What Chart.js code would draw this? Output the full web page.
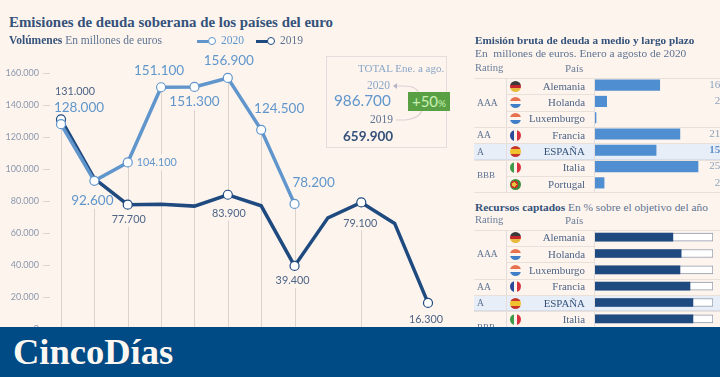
<!DOCTYPE html>
<html><head><meta charset="utf-8">
<script src="https://cdn.jsdelivr.net/npm/chart.js@4"></script>
<style>
html,body{margin:0;padding:0;background:#fdf4ee;width:720px;height:377px;overflow:hidden}
body{position:relative;font-family:"Liberation Serif",serif;color:#4c6486}
.t{position:absolute;white-space:nowrap;line-height:1}
canvas{position:absolute}
.line{position:absolute;height:1px;background:#e9e0da}
.vline{position:absolute;width:1px;background:#e3dedd}
.flag{position:absolute;width:11px;height:11px;border-radius:50%}
#banner{position:absolute;left:0;top:327px;width:720px;height:50px;background:#004a85}
</style></head><body>
<canvas id="main" width="460" height="297" style="left:0;top:40px"></canvas>

<div class="t" style="left:9px;top:15px;font-size:14.9px;font-weight:bold;color:#34527a">Emisiones de deuda soberana de los países del euro</div>
<div class="t" style="left:9px;top:35px;font-size:11.5px;color:#5d7391"><b style="color:#34527a">Volúmenes</b> En millones de euros</div>

<div style="position:absolute;left:197px;top:40px;width:12px;height:2.5px;background:#6096cc"></div>
<div style="position:absolute;left:208px;top:37px;width:6px;height:6px;border:1.3px solid #6096cc;border-radius:50%;background:#fff"></div>
<div class="t" style="left:221px;top:35px;font-size:11.5px;color:#6096cc">2020</div>
<div style="position:absolute;left:256px;top:40px;width:12px;height:2.5px;background:#1f4a80"></div>
<div style="position:absolute;left:267px;top:37px;width:6px;height:6px;border:1.3px solid #1f4a80;border-radius:50%;background:#fff"></div>
<div class="t" style="left:280px;top:35px;font-size:11.5px;color:#5d7391">2019</div>

<div style="position:absolute;left:326px;top:56px;width:119px;height:90px;border:1px solid #e6dcdc"></div>
<div class="t" style="left:358px;top:63px;font-size:11px;color:#8ba6c6">TOTAL Ene. a ago.</div>
<div class="t" style="left:367px;top:80px;font-size:11.5px;color:#8ba6c6">2020</div>
<div class="t" style="left:334px;top:93px;font-size:15.3px;font-family:Lato,sans-serif;color:#6096cc">986.700</div>
<div class="t" style="left:370px;top:114px;font-size:11.5px;color:#5d7391">2019</div>
<div class="t" style="left:343px;top:130px;font-size:13.5px;font-family:Lato,sans-serif;font-weight:bold;color:#34527a">659.900</div>
<svg style="position:absolute;left:390px;top:80px" width="40" height="44"><path d="M6 6 H14 Q28 6 29 15 M6 40 H16 Q30 38 32 30" fill="none" stroke="#e0cfd4" stroke-width="1.2"/><path d="M3 6 L7 3 V9Z" fill="#b9b4c6"/></svg>
<div class="t" style="left:408px;top:92px;width:42px;height:19px;background:#58a043;color:#c9f0b6;font-family:Lato,sans-serif;font-size:15px;line-height:19px;text-align:center">+50<span style="font-size:10px">%</span></div>

<div id="tables"></div>
<canvas id="bars1" width="126" height="114" style="left:594px;top:77px"></canvas>
<canvas id="bars2" width="126" height="98" style="left:594px;top:229px"></canvas>

<div id="banner"></div>
<div class="t" style="left:13px;top:334px;font-size:36.5px;font-weight:bold;color:#fdf7f2">CincoDías</div>

<script>
const months=['Ene','Feb','Mar','Abr','May','Jun','Jul','Ago','Sep','Oct','Nov','Dic'];
const values2020=[128000,92600,104100,151100,151300,156900,124500,78200];
const values2019=[131000,94000,77700,78000,76800,83900,77000,39400,69500,79100,66000,16300];
const labels2020=['128.000','92.600','104.100','151.100','151.300','156.900','124.500','78.200'];
const labels2019={0:'131.000',2:'77.700',5:'83.900',7:'39.400',9:'79.100',11:'16.300'};
const yTicks=[0,20000,40000,60000,80000,100000,120000,140000,160000];
const ratings=[['AAA',3],['AA',1],['A',1],['BBB',2]];
const countries=['Alemania','Holanda','Luxemburgo','Francia','ESPAÑA','Italia','Portugal'];
const emission=[160500,29000,2500,210500,151500,255500,22500];
const emissionLabels=['160.500','29.000','2.500','210.500','151.500','255.500','22.500'];
const resources=[66,73,72,80.5,83,83];

const blue='#6096cc',navy='#1f4a80',bg='#fdf4ee';
const F20='13.5px Lato,sans-serif',F19='10.8px Lato,sans-serif';
const font20=i=>i===2?F19:F20;
/* label offsets from the point */
const place20=[[18,-17],[-2,20],[29,0],[-2,-17],[0,15],[1,-17],[18,-21],[19,-21]];
const place19={0:[14,-28],2:[1,15],5:[1,19],7:[-2,15],9:[-1,21],11:[-2,17]};
const dropMonths=[0,1,2,3,4,5,6,7,9];

const overlay={id:'overlay',
 beforeDatasetsDraw(c){
  const g=c.ctx,x=c.scales.x,y=c.scales.y,b=y.getPixelForValue(0);
  g.save();g.strokeStyle='#dcd3ce';g.lineWidth=1;
  dropMonths.forEach(i=>{
    const v=i<8?Math.max(values2020[i],values2019[i]):values2019[i];
    const px=Math.round(x.getPixelForValue(i))+.5;
    g.beginPath();g.moveTo(px,y.getPixelForValue(v));g.lineTo(px,b);g.stroke();
  });
  yTicks.forEach(v=>{const p=Math.round(y.getPixelForValue(v))+.5;g.beginPath();g.moveTo(43,p);g.lineTo(50,p);g.stroke();});
  const mask=(txt,px,py,o,h)=>{
    const w=g.measureText(txt).width,cx=px+o[0],cy=py+o[1];
    const top=o[1]>0&&Math.abs(o[0])<5?py:cy-h;
    g.fillRect(cx-w/2-1,top,w+2,cy+h-top);
  };
  g.fillStyle=bg;
  values2020.forEach((v,i)=>{g.font=font20(i);mask(labels2020[i],x.getPixelForValue(i),y.getPixelForValue(v),place20[i],8);});
  g.font=F19;
  Object.keys(labels2019).forEach(i=>mask(labels2019[i],x.getPixelForValue(+i),y.getPixelForValue(values2019[i]),place19[i],7));
  g.restore();
 },
 afterDatasetsDraw(c){
  const g=c.ctx,x=c.scales.x,y=c.scales.y;
  g.save();g.textAlign='center';g.textBaseline='middle';
  g.fillStyle=blue;
  values2020.forEach((v,i)=>{g.font=font20(i);g.fillText(labels2020[i],x.getPixelForValue(i)+place20[i][0],y.getPixelForValue(v)+place20[i][1]);});
  g.fillStyle='#4c6486';g.font=F19;
  Object.keys(labels2019).forEach(i=>g.fillText(labels2019[i],x.getPixelForValue(+i)+place19[i][0],y.getPixelForValue(values2019[i])+place19[i][1]));
  g.restore();
 }};

new Chart(document.getElementById('main'),{
 type:'line',
 data:{labels:months,datasets:[
  {label:'2020',data:values2020,borderColor:blue,borderWidth:3.5,tension:0,clip:false,
   pointRadius:4.5,pointBackgroundColor:'#fff',pointBorderColor:blue,pointBorderWidth:1.2},
  {label:'2019',data:values2019,borderColor:navy,borderWidth:3.5,tension:0,clip:false,
   pointRadius:c=>labels2019[c.dataIndex]?4.5:0,pointBackgroundColor:'#fff',pointBorderColor:navy,pointBorderWidth:1.2}]},
 options:{responsive:false,animation:false,devicePixelRatio:1,
  plugins:{legend:{display:false},tooltip:{enabled:false}},
  layout:{padding:{top:33,right:32,bottom:8,left:0}},
  scales:{
   x:{display:false,offset:false,grid:{display:false}},
   y:{min:0,max:160000,afterBuildTicks(a){a.ticks=yTicks.map(v=>({value:v}))},
      afterFit(a){a.width=61;a.paddingTop=0;a.paddingBottom=0},
      border:{display:false},
      grid:{drawOnChartArea:false,drawTicks:true,tickLength:22,tickColor:'rgba(0,0,0,0)'},
      ticks:{padding:0,color:'#8a98ad',font:{family:'Lato,sans-serif',size:9},
             callback:v=>v===0?'0':String(v).replace(/(\d{3})$/,'.$1')}}
  }},
 plugins:[overlay]});

/* tables */
const nl='linear-gradient(#e8714f 0 34%,#fdf4ee 34% 66%,#3f7fc7 66%)';
const flagBg=['linear-gradient(#3a3a3a 0 34%,#c4262e 34% 66%,#e8b93a 66%)',nl,nl,
 'linear-gradient(90deg,#2d4a9a 0 34%,#fdf4ee 34% 66%,#d8323c 66%)',
 'linear-gradient(#c9342a 0 25%,#f0c230 25% 75%,#c9342a 75%)',
 'linear-gradient(90deg,#3f9a4a 0 34%,#fdf4ee 34% 66%,#d8323c 66%)',
 'radial-gradient(circle at 40% 50%,#e8c23a 0 25%,#c9342a 26% 45%,#3f8a3a 46%)'];
const T=document.getElementById('tables');
const add=html=>T.insertAdjacentHTML('beforeend',html);
function table(top,rows,rowH){
  const band=top+4*rowH;
  add(`<div style="position:absolute;left:474px;width:246px;top:${band}px;height:${rowH}px;background:#e8eef8;border-top:1px solid #d5dcea;border-bottom:1px solid #d5dcea;box-sizing:border-box"></div>`);
  add(`<div class="t" style="left:475px;top:${top-15}px;font-size:10.6px;color:#6c7f99">Rating</div>`);
  add(`<div class="t" style="left:565px;top:${top-15}px;font-size:11px;color:#6c7f99">País</div>`);
  add(`<div class="vline" style="left:506px;top:${top}px;height:${rowH*rows}px"></div>`);
  add(`<div class="vline" style="left:594px;top:${top}px;height:${rowH*rows}px"></div>`);
  add(`<div class="line" style="left:474px;width:246px;top:${top}px"></div>`);
  let r=0;
  ratings.forEach(([name,span])=>{
    const y=top+r*rowH;
    add(`<div class="t" style="left:477px;top:${y+(span*rowH)/2-5}px;font-size:${name==='BBB'?9:9.6}px;color:#5d7391">${name}</div>`);
    r+=span;
    add(`<div class="line" style="left:474px;width:246px;top:${Math.round(top+r*rowH)}px"></div>`);
  });
  [1,2,6].forEach(k=>add(`<div class="line" style="left:507px;width:87px;top:${Math.round(top+k*rowH)}px"></div>`));
  countries.slice(0,rows).forEach((n,k)=>{
    const y=top+k*rowH;
    add(`<div class="t" style="right:${720-585}px;top:${y+rowH/2-5.5}px;font-size:10.9px;color:${k===4?'#34527a':'#4c6486'}">${n}</div>`);
    add(`<div class="flag" style="left:510px;top:${y+rowH/2-5.5}px;background:${flagBg[k]}"></div>`);
  });
}
add('<div class="t" style="left:475px;top:35px;font-size:11.2px;font-weight:bold;color:#34527a">Emisión bruta de deuda a medio y largo plazo</div><div class="t" style="left:475px;top:48px;font-size:11.4px;color:#5d7391">En&nbsp; millones de euros. Enero a agosto de 2020</div><div class="t" style="left:475px;top:202px;font-size:11.4px;color:#5d7391"><b style="color:#34527a">Recursos captados</b> En % sobre el objetivo del año</div>');
table(78,7,16.35);
table(229.5,7,16.35);

const valueText={id:'valueText',afterDatasetsDraw(c){
  const g=c.ctx,y=c.scales.y;g.save();g.textBaseline='middle';g.textAlign='right';
  emissionLabels.forEach((t,i)=>{g.fillStyle=i===4?'#5f8fc8':'#8ea2bb';g.font=(i===4?'bold ':'')+'11px "Liberation Serif",serif';
    g.fillText(t,c.width+25,y.getPixelForValue(i));});
  g.restore();}};
const baseOpts=(max,right)=>({indexAxis:'y',responsive:false,animation:false,devicePixelRatio:1,
  layout:{padding:{left:1,right,top:0,bottom:0}},
  plugins:{legend:{display:false},tooltip:{enabled:false}},
  scales:{x:{display:false,min:0,max},y:{display:false}}});
new Chart(document.getElementById('bars1'),{type:'bar',
  data:{labels:countries,datasets:[{data:emission,backgroundColor:'#4f8ed0',barThickness:10.5}]},
  options:baseOpts(310000,0),plugins:[valueText]});
new Chart(document.getElementById('bars2'),{type:'bar',
  data:{labels:countries.slice(0,6),datasets:[
   {data:resources,backgroundColor:'#1f4a80',barThickness:8,order:1,grouped:false},
   {data:resources.map(()=>100),backgroundColor:'#fff',borderColor:'#8f99a8',borderWidth:1,barThickness:8,order:2,grouped:false}]},
  options:baseOpts(100,7)});
</script>
</body></html>
